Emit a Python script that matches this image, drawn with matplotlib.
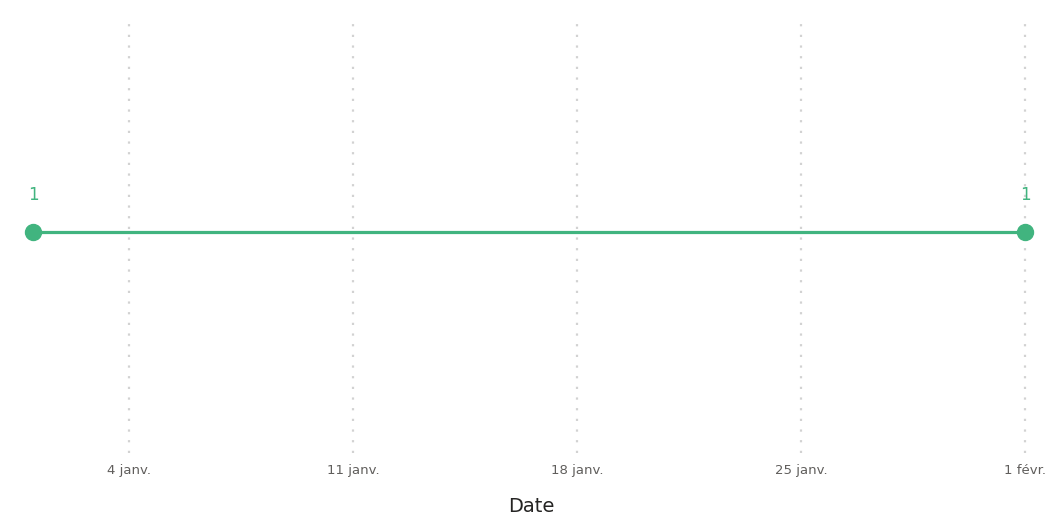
import pandas as pd
import matplotlib.pyplot as plt

# data
dates = pd.to_datetime(["2021-01-01", "2021-02-01"])
values = [1, 1]
tick_dates = pd.to_datetime(["2021-01-04", "2021-01-11", "2021-01-18", "2021-01-25", "2021-02-01"])
tick_labels = ["4 janv.", "11 janv.", "18 janv.", "25 janv.", "1 févr."]

green = "#41b47f"

fig = plt.figure(figsize=(10.63, 5.27), dpi=100)
ax = fig.add_axes([0, 0.1404, 1, 0.8216])

ax.plot(dates, values, color=green, lw=2.3, marker="o", markersize=11.5, zorder=3)
for d, v in zip(dates, values):
    ax.annotate(str(v), (d, v), xytext=(0, 20), textcoords="offset points",
                ha="center", va="bottom", color=green, fontsize=12)

# x range: 1 day = 32 px, first point at 33 px, last at 1025 px
ax.set_xlim(dates[0] - pd.Timedelta(days=33 / 32), dates[-1] + pd.Timedelta(days=38 / 32))
ax.set_ylim(0, 1.96)

ax.set_xticks(tick_dates)
ax.set_xticklabels(tick_labels, fontsize=9.5, color="#605e5c")
ax.tick_params(axis="x", length=0, pad=8)
ax.set_yticks([])
ax.grid(axis="x", color="#d2d2d2", linestyle=(0, (1, 3.8)), lw=1.6)
for s in ax.spines.values():
    s.set_visible(False)

ax.set_xlabel("Date", fontsize=14, color="#252423", labelpad=14, fontweight="medium")

fig.savefig("out.png", dpi=100)
